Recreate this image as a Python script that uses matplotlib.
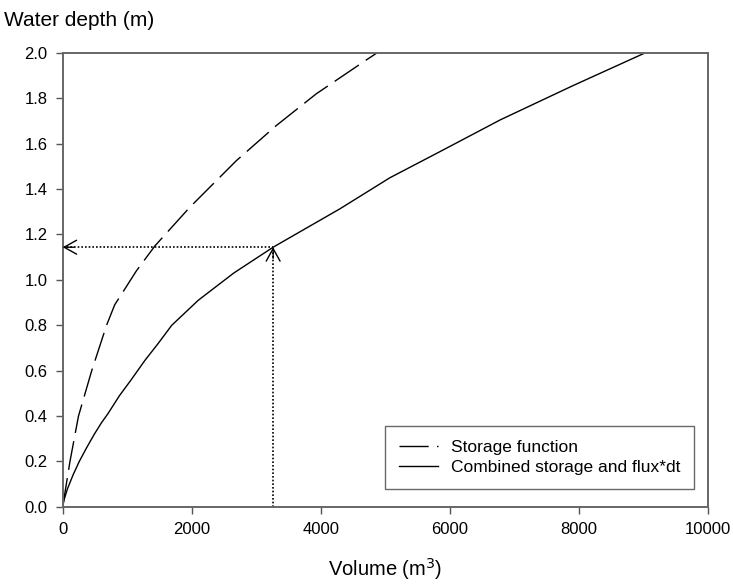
import matplotlib
matplotlib.use("Agg")
import matplotlib.pyplot as plt

plt.rcParams["font.family"] = ["Liberation Sans", "DejaVu Sans"]

# storage function (dashed)
store_vol = [0, 113, 245, 450, 680, 806, 1143, 1430, 1970, 2690, 3310, 3930, 4710, 4870]
store_depth = [0, 0.2, 0.4, 0.6, 0.8, 0.89, 1.04, 1.15, 1.32, 1.525, 1.68, 1.82, 1.97, 2.0]

# combined storage and flux*dt (solid)
comb_vol = [0, 20, 75, 160, 257, 370, 490, 600, 700, 880, 1054, 1276, 1480, 1690, 2100,
            2650, 3261, 4295, 5070, 5845, 6780, 7900, 9023]
comb_depth = [0, 0.03, 0.08, 0.14, 0.2, 0.26, 0.32, 0.37, 0.41, 0.49, 0.557, 0.646, 0.72,
              0.8, 0.91, 1.03, 1.144, 1.313, 1.45, 1.565, 1.705, 1.855, 2.0]

# lookup shown by the dotted arrows
look_vol = 3261
look_depth = 1.144

xticks = [0, 2000, 4000, 6000, 8000, 10000]
yticks = [0.0, 0.2, 0.4, 0.6, 0.8, 1.0, 1.2, 1.4, 1.6, 1.8, 2.0]

fig = plt.figure(figsize=(7.33, 5.88), dpi=100)
ax = fig.add_axes([0.0855, 0.138, 0.8805, 0.772])

ax.plot(store_vol, store_depth, color="black", lw=1.0, dashes=(21, 6),
        label="Storage function")
ax.plot(comb_vol, comb_depth, color="black", lw=1.0,
        label="Combined storage and flux*dt")

# dotted lookup lines
ax.plot([look_vol, look_vol], [0, look_depth], color="black", lw=1.2, ls=(0, (1, 1.2)))
ax.plot([0, look_vol], [look_depth, look_depth], color="black", lw=1.2, ls=(0, (1, 1.2)))
head = dict(arrowstyle="->,head_length=0.9,head_width=0.5", color="black", lw=1.0,
            mutation_scale=10, shrinkA=0, shrinkB=0)
ax.annotate("", xy=(0, look_depth), xytext=(8, 0), textcoords="offset points",
            arrowprops=head)
ax.annotate("", xy=(look_vol, look_depth), xytext=(0, -8), textcoords="offset points",
            arrowprops=head)

ax.set_xlim(0, 10000)
ax.set_ylim(0, 2.0)
ax.set_xticks(xticks)
ax.set_yticks(yticks)
ax.set_yticklabels([f"{v:.1f}" for v in yticks])
ax.tick_params(direction="out", length=5, width=1, color="#555555", labelsize=12, pad=6)
for s in ax.spines.values():
    s.set_color("#666666")
    s.set_linewidth(1.4)

ax.set_xlabel("Volume (m$^3$)", fontsize=14.5, labelpad=14)
fig.text(0.006, 1 - 20 / 588, "Water depth (m)", fontsize=15, va="center", ha="left")

leg = ax.legend(loc="lower right", bbox_to_anchor=(0.978, 0.039), borderaxespad=0,
                fontsize=12.5, frameon=True, fancybox=False, handlelength=2.3,
                handletextpad=0.7, labelspacing=0.3, borderpad=0.8)
leg.get_frame().set_edgecolor("#444444")
leg.get_frame().set_linewidth(1.0)

fig.savefig("out.png", dpi=100)
